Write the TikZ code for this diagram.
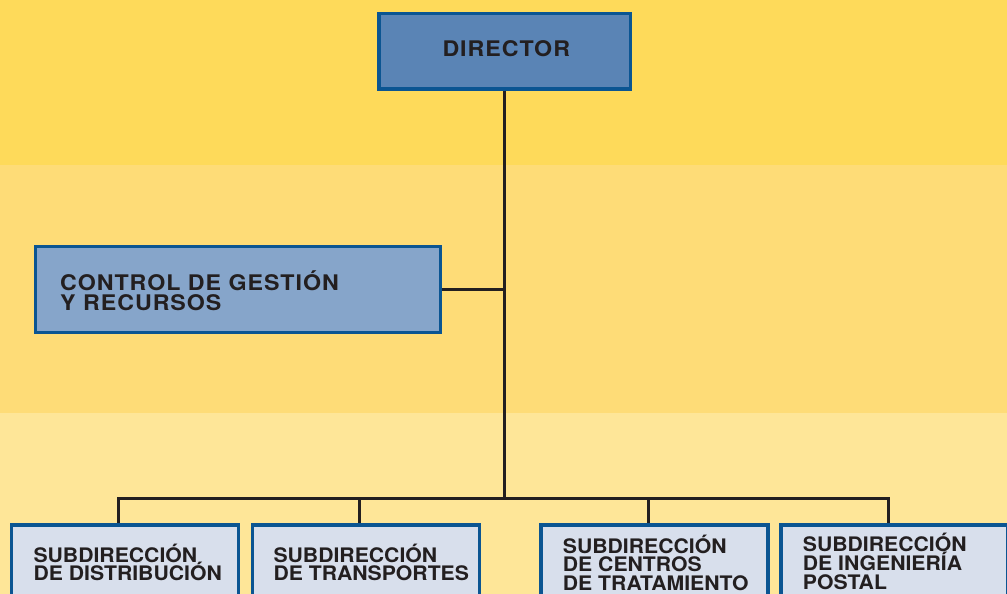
\documentclass[tikz,border=0pt]{standalone}
\usepackage{fontspec}
\newfontfamily\bigfont[FakeStretch=1.08, LetterSpace=4.5]{TeX Gyre Heros}
\newfontfamily\smallfont[FakeStretch=1.06]{TeX Gyre Heros}
\definecolor{bandA}{HTML}{FEDA5A}
\definecolor{bandB}{HTML}{FEDC77}
\definecolor{bandC}{HTML}{FEE698}
\definecolor{bordercol}{HTML}{0B5592}
\definecolor{dirfill}{HTML}{5A84B5}
\definecolor{ctlfill}{HTML}{86A5CA}
\definecolor{subfill}{HTML}{D8DFEC}
\definecolor{ink}{HTML}{231F20}
\tikzset{
  orgbox/.style={draw=bordercol, line width=3.5pt, inner sep=0pt, outer sep=1.75pt},
  dirbox/.style={orgbox, fill=dirfill, minimum width=251.5pt, minimum height=75.5pt},
  ctlbox/.style={orgbox, fill=ctlfill, line width=3pt, outer sep=1.5pt, minimum width=405pt, minimum height=86pt},
  subbox/.style={orgbox, fill=subfill, minimum width=227pt, minimum height=79pt},
  bigtxt/.style={anchor=base west, inner sep=0pt, text=ink, font=\bigfont\bfseries\fontsize{21.5}{21.5}\selectfont},
  smalltxt/.style={anchor=base west, inner sep=0pt, text=ink, font=\smallfont\bfseries\fontsize{20}{20}\selectfont},
  link/.style={draw=ink, line width=3.8pt}
}
\begin{document}
\begin{tikzpicture}[x=1pt, y=-1pt]
\useasboundingbox (0,0) rectangle (1007,594);
\clip (0,0) rectangle (1007,594);
\fill[bandA] (0,0) rectangle (1007,165);
\fill[bandB] (0,165) rectangle (1007,412.5);
\fill[bandC] (0,412.5) rectangle (1007,594);

% junction coordinates on the bus
\coordinate (j1) at (118.5,498.5);
\coordinate (j2) at (359.5,498.5);
\coordinate (j3) at (648.5,498.5);
\coordinate (j4) at (888.5,498.5);

% boxes
\node[dirbox] (dir) at (504.5,51.5) {};
\node[ctlbox] (ctl) at (238,289.5) {};
\node[subbox] (b1) at (125,564.5) {};
\node[subbox] (b2) at (366,564.5) {};
\node[subbox] (b3) at (654.5,564.5) {};
\node[subbox] (b4) at (894.5,564.5) {};

% connectors
\draw[link] (dir.south) -- (dir.south |- j1);
\draw[link] (ctl.east) -- (ctl.east -| dir.south);
\draw[link, line cap=rect] (j1) -- (j4);
\draw[link] (j1) -- (j1 |- b1.north);
\draw[link] (j2) -- (j2 |- b2.north);
\draw[link] (j3) -- (j3 |- b3.north);
\draw[link] (j4) -- (j4 |- b4.north);

% texts
\node[bigtxt] (tdir) at (442.3,56.7) {DIRECTOR};
\node[bigtxt] (tctla) at (60,290) {CONTROL DE GESTIÓN};
\node[bigtxt] (tctlb) at (60,310.7) {Y RECURSOS};

\node[smalltxt] (t1a) at (33.3,562.5) {SUBDIRECCIÓN};
\node[smalltxt] (t1b) at (33.3,580.5) {DE DISTRIBUCIÓN};
\node[smalltxt] (t2a) at (273.3,562.5) {SUBDIRECCIÓN};
\node[smalltxt] (t2b) at (273.3,580.5) {DE TRANSPORTES};
\node[smalltxt] (t3a) at (562.7,553) {SUBDIRECCIÓN};
\node[smalltxt] (t3b) at (562.7,571.5) {DE CENTROS};
\node[smalltxt] (t3c) at (562.7,590) {DE TRATAMIENTO};
\node[smalltxt] (t4a) at (802.7,551.5) {SUBDIRECCIÓN};
\node[smalltxt] (t4b) at (802.7,570) {DE INGENIERÍA};
\node[smalltxt] (t4c) at (802.7,589) {POSTAL};
\end{tikzpicture}
\end{document}
